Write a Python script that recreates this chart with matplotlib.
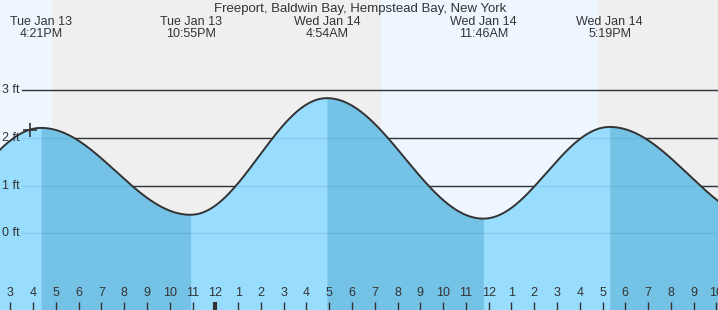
import numpy as np
import matplotlib.pyplot as plt

# hours counted from Jan 13 00:00
ext_hours   = [10.5, 16.35, 22.917, 28.9, 35.767, 41.317, 48.2]
ext_heights = [0.1, 2.2, 0.39, 2.82, 0.31, 2.22, 0.25]
ext_labels  = [None, 'Tue Jan 13\n4:21PM', 'Tue Jan 13\n10:55PM', 'Wed Jan 14\n4:54AM',
               'Wed Jan 14\n11:46AM', 'Wed Jan 14\n5:19PM', None]

# sunset / sunrise
night_spans = [(16.83, 31.27), (40.82, 50)]
now_hour = 15.865

y_ticks = [0, 1, 2, 3]
title = 'Freeport, Baldwin Bay, Hempstead Bay, New York'

plt.rcParams['font.family'] = ['Liberation Sans', 'DejaVu Sans']
txt = '#333333'

x0, x1 = 14.548, 46.07
y0, y1 = -1.594, 4.865

fig = plt.figure(figsize=(7.18, 3.10), dpi=100)
ax = fig.add_axes([0, 0, 1, 1])
ax.set_xlim(x0, x1)
ax.set_ylim(y0, y1)
ax.axis('off')

px = (x1 - x0) / 718
py = (y1 - y0) / 310

ax.axvspan(x0, x1, color='#eef7ff', zorder=0, lw=0)
for a, b in night_spans:
    ax.axvspan(a, b, color='#efefef', zorder=0.5, lw=0)


def tide(t):
    t = np.atleast_1d(t)
    out = np.empty_like(t, dtype=float)
    for i in range(len(ext_hours) - 1):
        ta, tb = ext_hours[i], ext_hours[i + 1]
        ha, hb = ext_heights[i], ext_heights[i + 1]
        m = (t >= ta) & (t <= tb)
        f = (t[m] - ta) / (tb - ta)
        out[m] = ha + (hb - ha) * (1 - np.cos(np.pi * f)) / 2
    return out


# grid lines + labels
for v in y_ticks:
    ax.axhline(v, xmin=22 / 718, xmax=1, color='#333333', lw=1, zorder=1)
    ax.text(x0 + 2 * px, v, f'{v} ft', ha='left', va='center',
            fontsize=9, color=txt, zorder=5)

t = np.linspace(x0, x1, 1500)
h = tide(t)
# rising water light, falling water dark
ax.fill_between(t, y0, h, color='#98dcfe', lw=0, zorder=2)
for i in range(len(ext_hours) - 1):
    if ext_heights[i + 1] > ext_heights[i]:
        continue
    seg = np.linspace(max(ext_hours[i], x0), min(ext_hours[i + 1], x1), 300)
    ax.fill_between(seg, y0, tide(seg), color='#74c2e6', lw=0, zorder=2.2)
for v in y_ticks:
    ax.axhline(v, xmin=22 / 718, xmax=1, color=(0, 0.25, 0.45, 0.09), lw=1, zorder=2.5)
ax.plot(t, h, color='#333333', lw=1.4, zorder=3)
ax.plot([now_hour], tide(np.array([now_hour])), marker='+', ms=10, mew=1.2,
        color='#333333', zorder=4)

# event labels
for th, lab in zip(ext_hours, ext_labels):
    if lab:
        ax.text(th, y1 - 16 * py, lab, ha='center', va='top', fontsize=9,
                color=txt, linespacing=0.95, zorder=5)
ax.text((x0 + x1) / 2 + 1 * px, y1 - 3 * py, title, ha='center', va='top',
        fontsize=9.5, color=txt, zorder=5)

# hour ticks
for hr in range(15, 47):
    lab = str((hr - 1) % 12 + 1)
    ax.text(hr, y0 + 17 * py, lab, ha='center', va='center', fontsize=9,
            color=txt, zorder=5)
    lw = 3 if hr % 24 == 0 else 1
    ax.plot([hr, hr], [y0, y0 + 8 * py], color='#333333', lw=lw,
            solid_capstyle='butt', zorder=5)

fig.savefig('out.png', dpi=100)
